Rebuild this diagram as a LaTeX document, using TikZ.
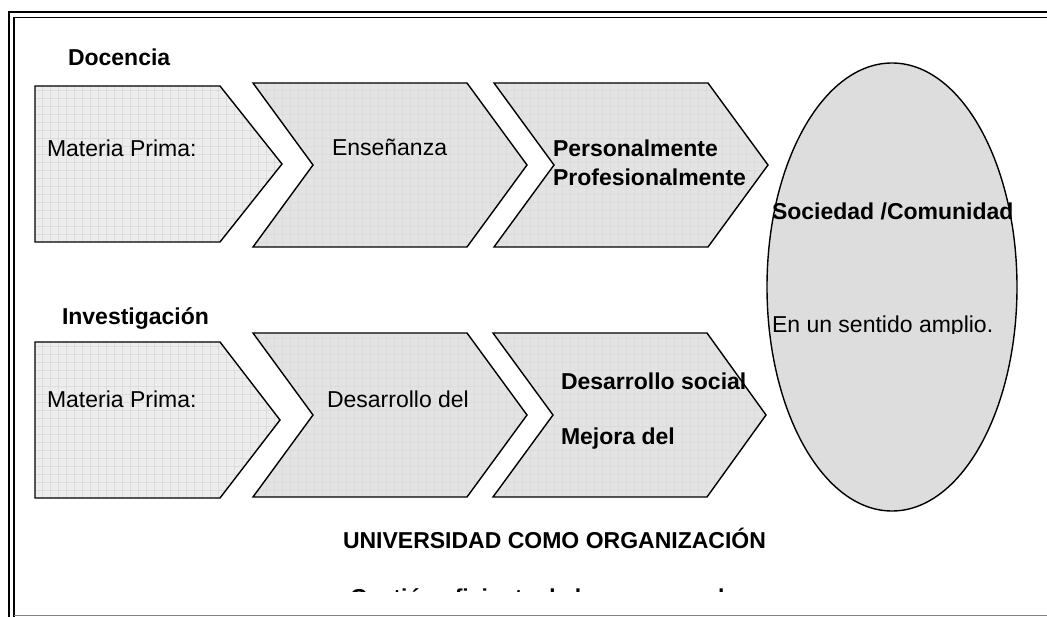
\documentclass[tikz,border=0pt]{standalone}
\usepackage{fontspec}
\setmainfont{Liberation Sans}
\usetikzlibrary{shapes.geometric}
\definecolor{fillA}{HTML}{EDEDED}
\definecolor{fillB}{HTML}{E3E3E3}
\definecolor{gridc}{HTML}{DCDCDC}
\definecolor{ellc}{HTML}{DDDDDD}
\newcommand\chevshape[2]{%
  \begin{scope}
    \clip #1;
    \fill[#2] (0,0) rectangle (1047,617);
    \foreach \gx in {2,10,...,1047} \draw[gridline] (\gx,0) -- (\gx,617);
    \foreach \gy in {2,10,...,617} \draw[gridline] (0,\gy) -- (1047,\gy);
  \end{scope}
  \draw[chevline] #1;
}
\begin{document}
\begin{tikzpicture}[x=1pt,y=-1pt,
  font=\fontsize{23}{27}\selectfont,
  gridline/.style={draw=gridc, line width=0.25pt},
  chevline/.style={draw=black, line width=1.4pt, line join=miter},
  lbl/.style={anchor=base west, inner sep=0pt, outer sep=0pt},
  blbl/.style={lbl, font=\fontsize{23}{27}\selectfont\bfseries}]
\useasboundingbox (0,0) rectangle (1047,617);
% frame
\draw[line width=2pt] (9,617) -- (9,12.5) -- (1047,12.5);
\draw[line width=1.6pt] (14,617) -- (14,17.5) -- (1047,17.5);
\draw[gray, line width=1.5pt] (14,615.5) -- (1047,615.5);
% row 1
\chevshape{(35,86) -- (220,86) -- (282,164) -- (220,242) -- (35,242) -- cycle}{fillA}
\chevshape{(253,83) -- (467,83) -- (527,165) -- (467,247) -- (253,247) -- (313,165) -- cycle}{fillB}
\chevshape{(494,83) -- (708,83) -- (768,165) -- (708,247) -- (494,247) -- (554,165) -- cycle}{fillB}
% row 2
\chevshape{(35,342) -- (220,342) -- (280,420) -- (220,498) -- (35,498) -- cycle}{fillA}
\chevshape{(253,333) -- (467,333) -- (527,415) -- (467,497) -- (253,497) -- (313,415) -- cycle}{fillB}
\chevshape{(493,333) -- (707,333) -- (766,415) -- (707,497) -- (493,497) -- (553,415) -- cycle}{fillB}
% ellipse
\node[draw, ellipse, fill=ellc, line width=1.4pt, minimum width=250pt, minimum height=448pt, inner sep=0pt] (soc) at (892,287) {};
% texts
\node[blbl] (doc) at (68,66) {Docencia};
\node[lbl] (mp1) at (47,157) {Materia Prima:};
\node[lbl] (ens) at (332,156) {Enseñanza};
\node[blbl] (pers) at (553,157) {Personalmente};
\node[blbl] (prof) at (553,186) {Profesionalmente};
\node[blbl] (socl) at (772,220) {Sociedad /Comunidad};
\begin{scope}
  \clip (760,300) rectangle (1030,333.5);
  \node[lbl] (amp) at (772,333) {En un sentido amplio.};
\end{scope}
\node[blbl] (inv) at (62,325) {Investigación};
\node[lbl] (mp2) at (47,408) {Materia Prima:};
\node[lbl] (des) at (327,408) {Desarrollo del};
\node[blbl] (dsoc) at (561,390) {Desarrollo social};
\node[blbl] (mej) at (561,445) {Mejora del};
\node[blbl] (univ) at (343,548) {UNIVERSIDAD COMO ORGANIZACIÓN};
\begin{scope}
  \clip (0,570) rectangle (1047,591.3);
  \node[blbl] (gest) at (350,605) {Gestión eficiente de los recursos humanos};
\end{scope}
\end{tikzpicture}
\end{document}
